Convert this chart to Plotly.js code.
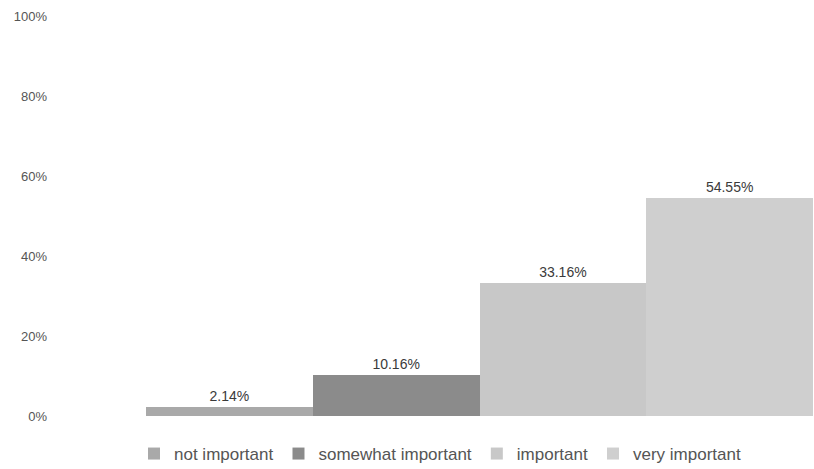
<!DOCTYPE html>
<html><head><meta charset="utf-8">
<script src="https://cdn.plot.ly/plotly-3.0.1.min.js"></script>
<style>html,body{margin:0;padding:0;background:#fff}#chart{width:814px;height:469px}</style>
</head><body><div id="chart"></div>
<script>
const categories = ["not important", "somewhat important", "important", "very important"];
const values = [2.14, 10.16, 33.16, 54.55];
const labels = ["2.14%", "10.16%", "33.16%", "54.55%"];
const colors = ["#a9a9a9", "#8b8b8b", "#c8c8c8", "#cfcfcf"];
const yTickVals = [0, 20, 40, 60, 80, 100];
const yTickText = ["0%", "20%", "40%", "60%", "80%", "100%"];

const FONT = '"Liberation Sans Narrow", "Liberation Sans", Arial, sans-serif';
const traces = categories.map((c, i) => ({
  type: 'bar', name: c, x: [c], y: [values[i]],
  text: [labels[i]], textposition: 'outside', cliponaxis: false,
  textfont: {family: FONT, size: 14, color: '#3a3a3a'},
  marker: {color: colors[i], line: {width: 0}},
  hoverinfo: 'skip'
}));
const layout = {
  width: 814, height: 469,
  margin: {l: 146, r: 1, t: 16, b: 53, autoexpand: false},
  paper_bgcolor: '#fff', plot_bgcolor: '#fff',
  barmode: 'stack', bargap: 0,
  font: {family: FONT, color: '#555'},
  xaxis: {showticklabels: false, showgrid: false, zeroline: false, showline: false, ticks: '',
          categoryorder: 'array', categoryarray: categories},
  yaxis: {range: [0, 100], tickvals: yTickVals, ticktext: yTickText, showgrid: false, zeroline: false,
          showline: false, ticks: '', tickfont: {family: FONT, size: 13, color: '#555'},
          ticklabelstandoff: 98},
  showlegend: true,
  legend: {orientation: 'h', x: -0.018, xanchor: 'left', y: -0.05, yanchor: 'top',
           font: {family: FONT, size: 17, color: '#555'}, itemwidth: 30, tracegroupgap: 0,
           traceorder: 'normal'}
};
Plotly.newPlot('chart', traces, layout, {staticPlot: true, displayModeBar: false});
</script></body></html>
